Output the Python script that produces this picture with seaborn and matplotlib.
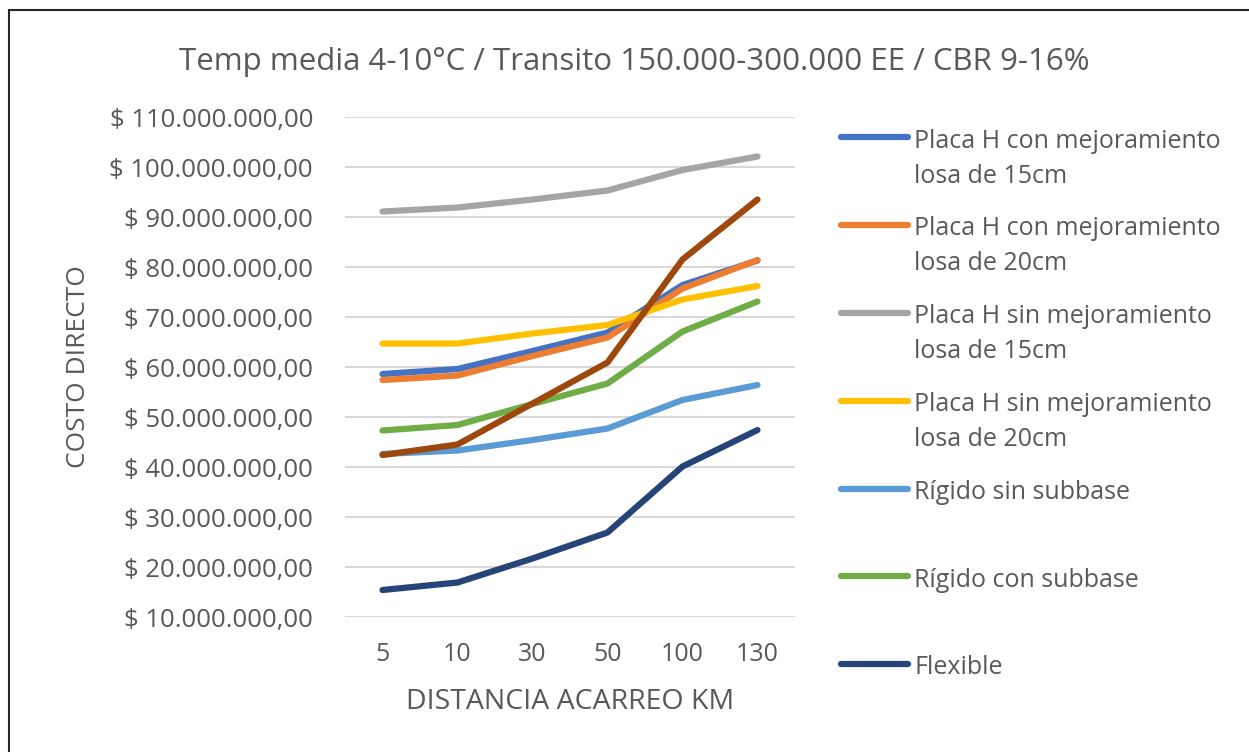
import numpy as np
import pandas as pd
import matplotlib
matplotlib.use("Agg")
import matplotlib.pyplot as plt
import seaborn as sns
from matplotlib.ticker import FuncFormatter, MultipleLocator
from matplotlib.patches import Rectangle

# Data (values in millions of pesos)
distancias = ["5", "10", "30", "50", "100", "130"]
placa_con_15 = [58.6, 59.6, 63.2, 66.9, 76.4, 81.3]
placa_con_20 = [57.4, 58.3, 62.2, 65.9, 75.7, 81.4]
placa_sin_15 = [91.1, 91.9, 93.5, 95.3, 99.4, 102.1]
placa_sin_20 = [64.7, 64.7, 66.7, 68.4, 73.5, 76.2]
rigido_sin = [42.6, 43.3, 45.4, 47.7, 53.4, 56.4]
rigido_con = [47.3, 48.4, 52.6, 56.7, 67.1, 73.1]
flexible = [15.4, 16.9, 21.7, 26.9, 40.1, 47.4]
sin_leyenda = [42.4, 44.5, 52.7, 60.9, 81.5, 93.5]

# single-line labels get an empty second line so every entry has the same height
series = [
    ("Placa H con mejoramiento\nlosa de 15cm", placa_con_15, "#4472C4"),
    ("Placa H con mejoramiento\nlosa de 20cm", placa_con_20, "#ED7D31"),
    ("Placa H sin mejoramiento\nlosa de 15cm", placa_sin_15, "#A5A5A5"),
    ("Placa H sin mejoramiento\nlosa de 20cm", placa_sin_20, "#FFC000"),
    ("Rígido sin subbase\n", rigido_sin, "#5B9BD5"),
    ("Rígido con subbase\n", rigido_con, "#70AD47"),
    ("Flexible\n", flexible, "#264478"),
    ("_sin_leyenda", sin_leyenda, "#9E480E"),
]

sns.set_style("white")
plt.rcParams["font.family"] = ["Open Sans", "DejaVu Sans"]
txt = "#595959"

fig = plt.figure(figsize=(12.49, 7.52), dpi=100)
ax = fig.add_axes([0.2762, 0.1795, 0.3603, 0.6649])

for label, vals, color in series:
    df = pd.DataFrame({"x": np.arange(len(distancias)), "y": np.array(vals) * 1e6})
    sns.lineplot(data=df, x="x", y="y", ax=ax, color=color, linewidth=4.5,
                 label=label, solid_capstyle="round", solid_joinstyle="round")

ax.set_xlim(-0.5, len(distancias) - 0.5)
ax.set_ylim(10e6, 110e6)
ax.yaxis.set_major_locator(MultipleLocator(10e6))
ax.set_xticks(np.arange(len(distancias)))
ax.set_xticklabels(distancias)

def pesos(v, pos):
    s = f"{v:,.2f}".replace(",", "X").replace(".", ",").replace("X", ".")
    return "$ " + s

ax.yaxis.set_major_formatter(FuncFormatter(pesos))
ax.grid(axis="y", color="#D9D9D9", linewidth=1.5)
ax.set_axisbelow(True)
for sp in ax.spines.values():
    sp.set_visible(False)
ax.tick_params(axis="y", length=0, labelsize=18.5, colors=txt, pad=23)
ax.tick_params(axis="x", length=0, labelsize=18, colors=txt, pad=18)

ax.set_xlabel("DISTANCIA ACARREO KM", fontsize=20.5, color=txt, labelpad=15)
ax.set_ylabel("COSTO DIRECTO", fontsize=19, color=txt, labelpad=13)
fig.suptitle("Temp media 4-10°C / Transito 150.000-300.000 EE / CBR 9-16%",
             fontsize=22.5, color=txt, x=0.508, y=0.938)

ax.get_legend().remove()
handles, labels = ax.get_legend_handles_labels()
leg = fig.legend(handles, labels, loc="upper left", bbox_to_anchor=(0.655, 0.859),
                 frameon=False, fontsize=18, labelcolor=txt, handlelength=2.7,
                 handletextpad=0.24, labelspacing=1.11)
for t in leg.get_texts():
    t.set_linespacing(1.53)
for line in leg.get_lines():
    line.set_linewidth(4.5)
    line.set_solid_capstyle("round")
# line up each handle with the first line of its label
for col in leg._legend_handle_box.get_children():
    for row in col.get_children():
        row.align = "top"

fig.patches.append(Rectangle((0.0072, -0.1), 1.2, 1.0867, transform=fig.transFigure,
                             fill=False, edgecolor="#262626", linewidth=1.5))

fig.savefig("out.png", dpi=100)
